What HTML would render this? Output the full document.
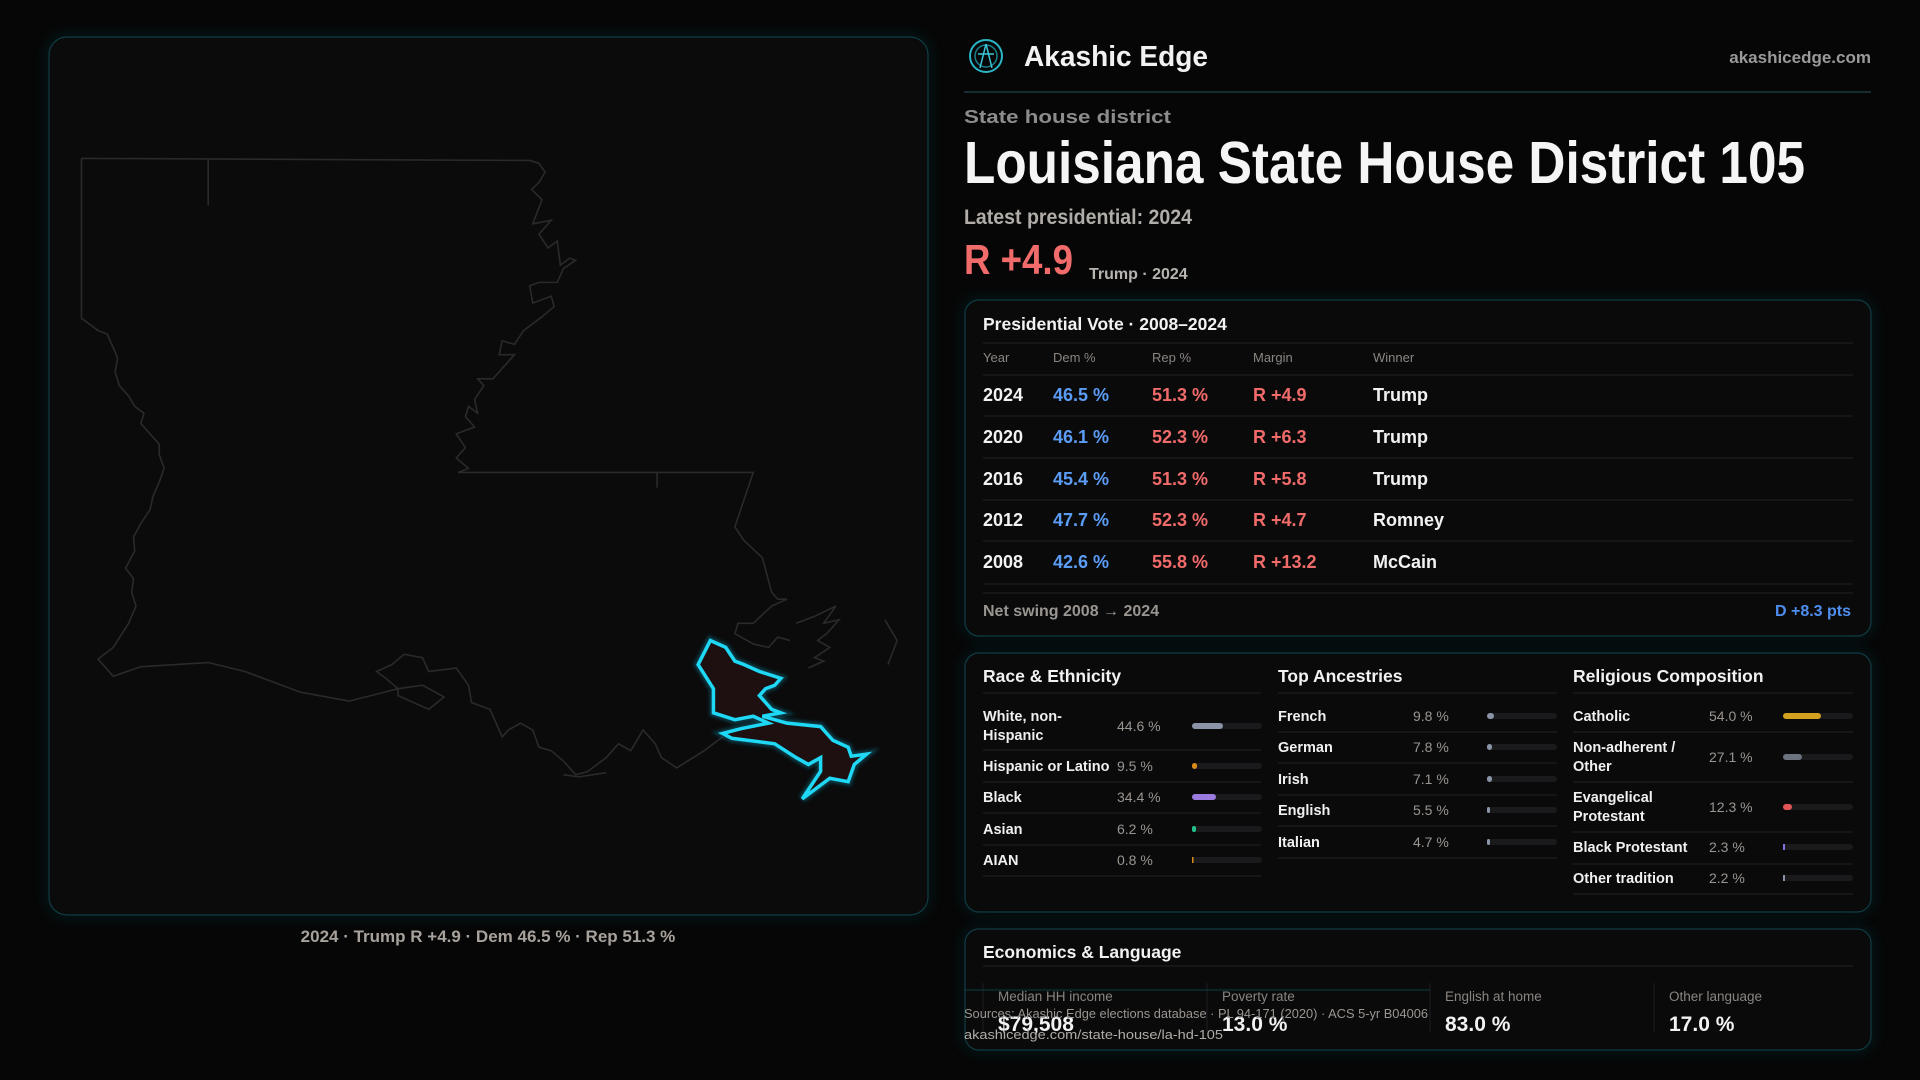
<!DOCTYPE html>
<html><head><meta charset="utf-8"><style>
html,body{margin:0;padding:0;background:#060606;width:1920px;height:1080px;overflow:hidden}
svg{display:block}
text{font-family:"Liberation Sans",sans-serif}
</style></head><body>
<svg width="1920" height="1080" viewBox="0 0 1920 1080" xmlns="http://www.w3.org/2000/svg">
<defs>
<filter id="glow" x="-20%" y="-20%" width="140%" height="140%"><feGaussianBlur stdDeviation="6"/></filter>
<filter id="g2" x="-20%" y="-20%" width="140%" height="140%"><feGaussianBlur stdDeviation="2.5"/></filter>
</defs>
<rect width="1920" height="1080" fill="#060606"/>

<!-- Map panel -->
<rect x="49" y="37" width="879" height="878" rx="18" fill="none" stroke="#0e4a55" stroke-width="6" opacity="0.35" filter="url(#glow)"/>
<rect x="49" y="37" width="879" height="878" rx="18" fill="#0b0b0c" stroke="#0f3c44" stroke-width="1.2"/>
<g transform="scale(0.6124,0.6887)" fill="none" stroke="#2a2a2c" stroke-width="1.6" vector-effect="non-scaling-stroke">
<polyline vector-effect="non-scaling-stroke" points="133,230 865,233 880,237 890,250 880,265 868,275 885,290 870,325 900,320 880,340 895,360 910,350 915,385 930,375 940,378 920,390 910,410 880,410 865,415 870,440 900,430 905,445 885,460 870,470 855,480 840,500 820,495 815,515 840,515 805,550 780,550 790,560 775,580 780,600 765,590 760,605 775,620 745,630 760,650 745,665 765,680 748,686 1230,686 1200,765 1215,785 1245,810 1260,860 1270,870 1285,870 1260,880 1230,905 1205,905 1200,920 1230,935 1255,940 1270,925 1290,930"/>
<polyline vector-effect="non-scaling-stroke" points="133,230 133,462 160,480 175,485 185,505 192,520 188,540 195,560 210,575 220,590 235,600 230,615 245,630 260,645 260,660 268,680 260,700 250,720 245,740 230,760 218,780 220,800 205,825 218,840 215,860 222,880 210,905 185,940 160,957 185,982 230,968 340,962 400,975 490,1005 570,1018 650,1000 630,985 615,975 640,965 660,950 690,955 700,975 745,970 765,995 770,1020 800,1030 820,1070 830,1060 850,1050 870,1060 880,1085 900,1090 920,1105 940,1125 960,1120 990,1100 1010,1080 1030,1090 1050,1060 1070,1080 1080,1100 1105,1115 1150,1090 1180,1070"/>
<polyline vector-effect="non-scaling-stroke" points="650,1000 690,995 725,1012 700,1030 650,1010 650,1000"/>
<polyline vector-effect="non-scaling-stroke" points="340,230 340,298"/>
<polyline vector-effect="non-scaling-stroke" points="1073,686 1073,708"/>
<polyline vector-effect="non-scaling-stroke" points="1300,905 1330,895 1365,880 1345,905 1370,900 1350,920 1335,930 1355,940 1330,955 1345,960 1320,970"/>
<polyline vector-effect="non-scaling-stroke" points="1445,900 1465,930 1450,965"/>
<polyline vector-effect="non-scaling-stroke" points="920,1125 945,1128 990,1122"/>
</g>
<g transform="scale(0.6124,0.6887)">
<polygon vector-effect="non-scaling-stroke" points="1140,965 1160,930 1185,940 1200,960 1215,965 1240,975 1275,985 1265,995 1250,1000 1240,1010 1260,1030 1275,1035 1245,1040 1285,1050 1340,1055 1360,1075 1385,1085 1390,1098 1415,1095 1395,1110 1385,1135 1355,1130 1310,1160 1340,1120 1340,1100 1320,1110 1300,1100 1265,1080 1195,1072 1180,1065 1210,1058 1255,1050 1230,1040 1200,1045 1165,1035 1165,1000" fill="none" stroke="#0a8aa5" stroke-width="8" opacity="0.4" filter="url(#g2)"/>
<polygon vector-effect="non-scaling-stroke" points="1140,965 1160,930 1185,940 1200,960 1215,965 1240,975 1275,985 1265,995 1250,1000 1240,1010 1260,1030 1275,1035 1245,1040 1285,1050 1340,1055 1360,1075 1385,1085 1390,1098 1415,1095 1395,1110 1385,1135 1355,1130 1310,1160 1340,1120 1340,1100 1320,1110 1300,1100 1265,1080 1195,1072 1180,1065 1210,1058 1255,1050 1230,1040 1200,1045 1165,1035 1165,1000" fill="#1e1010" stroke="#1fd8f5" stroke-width="3.5"/>
</g>
<text x="488" y="942" text-anchor="middle" font-size="17" font-weight="700" fill="#a8a29c">2024 · Trump R +4.9 · Dem 46.5 % · Rep 51.3 %</text>

<!-- Header -->
<circle cx="986" cy="56" r="16" fill="none" stroke="#2bb5c5" stroke-width="2"/>
<circle cx="986" cy="56" r="11" fill="none" stroke="#1a7f8d" stroke-width="1.5"/>
<path d="M986 44 L980 68 M986 44 L992 68 M978 54 L994 54" stroke="#3cc8d8" stroke-width="1.5" fill="none"/>
<text x="1024" y="66" font-size="29" font-weight="700" fill="#f2f2f2" textLength="184" lengthAdjust="spacingAndGlyphs">Akashic Edge</text>
<text x="1871" y="63" text-anchor="end" font-size="17" font-weight="700" fill="#9a9a9a">akashicedge.com</text>
<line x1="964" y1="92" x2="1871" y2="92" stroke="#1c3a40" stroke-width="1.5"/>
<text x="964" y="123" font-size="18" font-weight="700" fill="#8c8c8c" textLength="207" lengthAdjust="spacingAndGlyphs">State house district</text>
<text x="964" y="183" font-size="59" font-weight="700" fill="#f5f5f5" textLength="841" lengthAdjust="spacingAndGlyphs">Louisiana State House District 105</text>
<text x="964" y="224" font-size="21" font-weight="700" fill="#b0aca8" textLength="228" lengthAdjust="spacingAndGlyphs">Latest presidential: 2024</text>
<text x="964" y="274" font-size="42" font-weight="700" fill="#f26b6b" textLength="109" lengthAdjust="spacingAndGlyphs">R +4.9</text>
<text x="1089" y="279" font-size="16" font-weight="700" fill="#b8b4b0">Trump · 2024</text>

<!-- Presidential card -->
<rect x="965" y="300" width="906" height="336" rx="14" fill="none" stroke="#0e4a55" stroke-width="6" opacity="0.35" filter="url(#glow)"/>
<rect x="965" y="300" width="906" height="336" rx="14" fill="#0a0a0b" stroke="#0f3c44" stroke-width="1.2"/>
<text x="983" y="330" font-size="17.5" font-weight="700" fill="#f2f2f2">Presidential Vote · 2008–2024</text>
<g stroke="#1e1e20" stroke-width="1.2">
<line x1="983" y1="343" x2="1853" y2="343"/><line x1="983" y1="375" x2="1853" y2="375"/>
<line x1="983" y1="416" x2="1853" y2="416"/><line x1="983" y1="458" x2="1853" y2="458"/>
<line x1="983" y1="500" x2="1853" y2="500"/><line x1="983" y1="541" x2="1853" y2="541"/>
<line x1="983" y1="584" x2="1853" y2="584"/><line x1="983" y1="593" x2="1853" y2="593"/>
</g>
<g font-size="13" fill="#8a8580">
<text x="983" y="362">Year</text><text x="1053" y="362">Dem %</text><text x="1152" y="362">Rep %</text><text x="1253" y="362">Margin</text><text x="1373" y="362">Winner</text>
</g>
<g font-size="18" font-weight="700">
<g fill="#f2f2f2"><text x="983" y="401">2024</text><text x="983" y="443">2020</text><text x="983" y="485">2016</text><text x="983" y="526">2012</text><text x="983" y="568">2008</text>
<text x="1373" y="401">Trump</text><text x="1373" y="443">Trump</text><text x="1373" y="485">Trump</text><text x="1373" y="526">Romney</text><text x="1373" y="568">McCain</text></g>
<g fill="#5b9cf5"><text x="1053" y="401">46.5 %</text><text x="1053" y="443">46.1 %</text><text x="1053" y="485">45.4 %</text><text x="1053" y="526">47.7 %</text><text x="1053" y="568">42.6 %</text></g>
<g fill="#f26b6b"><text x="1152" y="401">51.3 %</text><text x="1152" y="443">52.3 %</text><text x="1152" y="485">51.3 %</text><text x="1152" y="526">52.3 %</text><text x="1152" y="568">55.8 %</text>
<text x="1253" y="401">R +4.9</text><text x="1253" y="443">R +6.3</text><text x="1253" y="485">R +5.8</text><text x="1253" y="526">R +4.7</text><text x="1253" y="568">R +13.2</text></g>
</g>
<text x="983" y="616" font-size="16" font-weight="700" fill="#9a9590">Net swing 2008 → 2024</text>
<text x="1851" y="616" text-anchor="end" font-size="16" font-weight="700" fill="#4f8ef0">D +8.3 pts</text>

<!-- Demographics card -->
<rect x="965" y="653" width="906" height="259" rx="14" fill="none" stroke="#0e4a55" stroke-width="6" opacity="0.35" filter="url(#glow)"/>
<rect x="965" y="653" width="906" height="259" rx="14" fill="#0a0a0b" stroke="#0f3c44" stroke-width="1.2"/>
<g font-size="17.5" font-weight="700" fill="#f2f2f2">
<text x="983" y="682">Race &amp; Ethnicity</text><text x="1278" y="682">Top Ancestries</text><text x="1573" y="682">Religious Composition</text>
</g>
<g stroke="#1e1e20" stroke-width="1.2">
<line x1="983" y1="693" x2="1261" y2="693"/><line x1="983" y1="750" x2="1261" y2="750"/><line x1="983" y1="782" x2="1261" y2="782"/><line x1="983" y1="813" x2="1261" y2="813"/><line x1="983" y1="845" x2="1261" y2="845"/><line x1="983" y1="876" x2="1261" y2="876"/>
<line x1="1278" y1="693" x2="1557" y2="693"/><line x1="1278" y1="732" x2="1557" y2="732"/><line x1="1278" y1="763" x2="1557" y2="763"/><line x1="1278" y1="795" x2="1557" y2="795"/><line x1="1278" y1="826" x2="1557" y2="826"/><line x1="1278" y1="858" x2="1557" y2="858"/>
<line x1="1573" y1="693" x2="1853" y2="693"/><line x1="1573" y1="732" x2="1853" y2="732"/><line x1="1573" y1="782" x2="1853" y2="782"/><line x1="1573" y1="832" x2="1853" y2="832"/><line x1="1573" y1="864" x2="1853" y2="864"/><line x1="1573" y1="894" x2="1853" y2="894"/>
</g>
<g font-size="14.5" font-weight="700" fill="#f0f0f0">
<text x="983" y="721">White, non-</text><text x="983" y="740">Hispanic</text><text x="983" y="771">Hispanic or Latino</text><text x="983" y="802">Black</text><text x="983" y="834">Asian</text><text x="983" y="865">AIAN</text>
<text x="1278" y="721">French</text><text x="1278" y="752">German</text><text x="1278" y="784">Irish</text><text x="1278" y="815">English</text><text x="1278" y="847">Italian</text>
<text x="1573" y="721">Catholic</text><text x="1573" y="752">Non-adherent /</text><text x="1573" y="771">Other</text><text x="1573" y="802">Evangelical</text><text x="1573" y="821">Protestant</text><text x="1573" y="852">Black Protestant</text><text x="1573" y="883">Other tradition</text>
</g>
<g font-size="14" fill="#9a9590">
<text x="1117" y="731">44.6 %</text><text x="1117" y="771">9.5 %</text><text x="1117" y="802">34.4 %</text><text x="1117" y="834">6.2 %</text><text x="1117" y="865">0.8 %</text>
<text x="1413" y="721">9.8 %</text><text x="1413" y="752">7.8 %</text><text x="1413" y="784">7.1 %</text><text x="1413" y="815">5.5 %</text><text x="1413" y="847">4.7 %</text>
<text x="1709" y="721">54.0 %</text><text x="1709" y="762">27.1 %</text><text x="1709" y="812">12.3 %</text><text x="1709" y="852">2.3 %</text><text x="1709" y="883">2.2 %</text>
</g>
<g fill="#1a1a1c">
<rect x="1192" y="723" width="70" height="6" rx="3"/><rect x="1192" y="763" width="70" height="6" rx="3"/><rect x="1192" y="794" width="70" height="6" rx="3"/><rect x="1192" y="826" width="70" height="6" rx="3"/><rect x="1192" y="857" width="70" height="6" rx="3"/>
<rect x="1487" y="713" width="70" height="6" rx="3"/><rect x="1487" y="744" width="70" height="6" rx="3"/><rect x="1487" y="776" width="70" height="6" rx="3"/><rect x="1487" y="807" width="70" height="6" rx="3"/><rect x="1487" y="839" width="70" height="6" rx="3"/>
<rect x="1783" y="713" width="70" height="6" rx="3"/><rect x="1783" y="754" width="70" height="6" rx="3"/><rect x="1783" y="804" width="70" height="6" rx="3"/><rect x="1783" y="844" width="70" height="6" rx="3"/><rect x="1783" y="875" width="70" height="6" rx="3"/>
</g>
<rect x="1192" y="723" width="31" height="6" rx="3" fill="#8a94a6"/>
<rect x="1192" y="763" width="5" height="6" rx="2.5" fill="#d98a1a"/>
<rect x="1192" y="794" width="24" height="6" rx="3" fill="#9b7be0"/>
<rect x="1192" y="826" width="4" height="6" rx="2" fill="#22c08a"/>
<rect x="1192" y="857" width="1.5" height="6" fill="#d98a1a"/>
<rect x="1487" y="713" width="7" height="6" rx="3" fill="#8a94a6"/>
<rect x="1487" y="744" width="5" height="6" rx="2.5" fill="#8a94a6"/>
<rect x="1487" y="776" width="5" height="6" rx="2.5" fill="#8a94a6"/>
<rect x="1487" y="807" width="3" height="6" rx="1.5" fill="#8a94a6"/>
<rect x="1487" y="839" width="3" height="6" rx="1.5" fill="#8a94a6"/>
<rect x="1783" y="713" width="38" height="6" rx="3" fill="#d4a020"/>
<rect x="1783" y="754" width="19" height="6" rx="3" fill="#6b7280"/>
<rect x="1783" y="804" width="9" height="6" rx="3" fill="#e05555"/>
<rect x="1783" y="844" width="2" height="6" fill="#8b6fe0"/>
<rect x="1783" y="875" width="2" height="6" fill="#8a94a6"/>

<!-- Economics card -->
<rect x="965" y="929" width="906" height="121" rx="14" fill="none" stroke="#0e4a55" stroke-width="6" opacity="0.35" filter="url(#glow)"/>
<rect x="965" y="929" width="906" height="121" rx="14" fill="#0a0a0b" stroke="#0f3c44" stroke-width="1.2"/>
<text x="983" y="958" font-size="17.5" font-weight="700" fill="#f2f2f2">Economics &amp; Language</text>
<line x1="983" y1="966" x2="1853" y2="966" stroke="#1e1e20" stroke-width="1.2"/>
<g stroke="#1c1c1e" stroke-width="1.2"><line x1="983" y1="983" x2="983" y2="1032"/><line x1="1207" y1="983" x2="1207" y2="1032"/><line x1="1430" y1="983" x2="1430" y2="1032"/><line x1="1654" y1="983" x2="1654" y2="1032"/></g>
<g font-size="13.5" fill="#8a8580"><text x="998" y="1001">Median HH income</text><text x="1222" y="1001">Poverty rate</text><text x="1445" y="1001">English at home</text><text x="1669" y="1001">Other language</text></g>
<g font-size="21" font-weight="700" fill="#f2f2f2"><text x="998" y="1031">$79,508</text><text x="1222" y="1031">13.0 %</text><text x="1445" y="1031">83.0 %</text><text x="1669" y="1031">17.0 %</text></g>
<line x1="964" y1="990" x2="1430" y2="990" stroke="#0f3c44" stroke-width="1"/>
<text x="964" y="1018" font-size="13" fill="#9a9590" textLength="464" lengthAdjust="spacingAndGlyphs">Sources: Akashic Edge elections database · PL 94-171 (2020) · ACS 5-yr B04006</text>
<text x="964" y="1039" font-size="13" fill="#b0aca8" textLength="259" lengthAdjust="spacingAndGlyphs">akashicedge.com/state-house/la-hd-105</text>
</svg>
</body></html>
